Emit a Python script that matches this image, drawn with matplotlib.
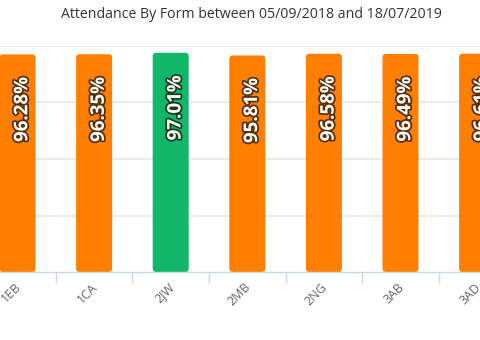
import matplotlib
matplotlib.use("Agg")
import matplotlib.pyplot as plt
import matplotlib.patheffects as pe
import matplotlib.transforms as mtransforms
from matplotlib.patches import FancyBboxPatch

plt.rcParams['font.family'] = ['Open Sans', 'DejaVu Sans']

forms = ["1EB", "1CA", "2JW", "2MB", "2NG", "3AB", "3AD"]
attendance = [96.28, 96.35, 97.01, 95.81, 96.58, 96.49, 96.61]
best_form = "2JW"
title = "Attendance By Form between 05/09/2018 and 18/07/2019"

ORANGE = "#ff8000"
GREEN = "#12b76a"

W, H = 480, 340
fig = plt.figure(figsize=(W / 100, H / 100), dpi=100)
ax = fig.add_axes([0, 68 / H, 1, 226 / H])

x = list(range(len(forms)))
px_per_x = 76.6
x0 = -17.5 / px_per_x

colors = [GREEN if f == best_form else ORANGE for f in forms]
bars = ax.bar(x, attendance, width=0.47, color=colors, zorder=2)

ax.set_xticks(x)
ax.set_xticklabels(forms, rotation=45, ha="right", va="top",
                   fontsize=9, color="#666666")
ax.tick_params(axis="x", which="major", length=0, pad=7)
ax.set_xticks([i + 0.5 for i in range(-1, len(forms))], minor=True)
ax.tick_params(axis="x", which="minor", length=8, color="#ccd6eb", width=1)
shift = mtransforms.ScaledTranslation(6 / 100, 1 / 100, fig.dpi_scale_trans)
for lbl in ax.get_xticklabels():
    lbl.set_transform(lbl.get_transform() + shift)

ax.set_xlim(x0, x0 + W / px_per_x)
ax.set_ylim(0, 100)

# swap plain rectangles for rounded ones
px_per_y = 226 / 100
radius_px = 3.5
for b in bars:
    bx, by = b.get_x(), b.get_y()
    bw, bh = b.get_width(), b.get_height()
    patch = FancyBboxPatch((bx, by), bw, bh,
                           boxstyle=f"round,pad=0,rounding_size={radius_px / px_per_x}",
                           mutation_aspect=px_per_x / px_per_y,
                           facecolor=b.get_facecolor(), edgecolor="none", zorder=2)
    b.set_visible(False)
    ax.add_patch(patch)

# value labels inside the top of each bar
for xi, v in zip(x, attendance):
    ax.annotate(f"{v:.2f}%", (xi, v), xytext=(3.4, -16), textcoords="offset points",
                rotation=90, ha="center", va="top", color="white",
                fontsize=13.5, fontweight="bold", zorder=3,
                path_effects=[pe.withStroke(linewidth=2.6, foreground=(0.1, 0.05, 0, 0.7))])

# grid
for gy in [25, 50, 75, 100]:
    ax.axhline(gy, color="#e6e6e6", lw=1.1, zorder=1)

for s in ["top", "left", "right"]:
    ax.spines[s].set_visible(False)
ax.spines["bottom"].set_color("#ccd6eb")
ax.spines["bottom"].set_linewidth(1)
ax.set_yticks([])

fig.text(251 / W, 1 - 15 / H, title, ha="center", va="center",
         fontsize=10.2, color="#333333")

fig.savefig("out.png", dpi=100, facecolor="white")
